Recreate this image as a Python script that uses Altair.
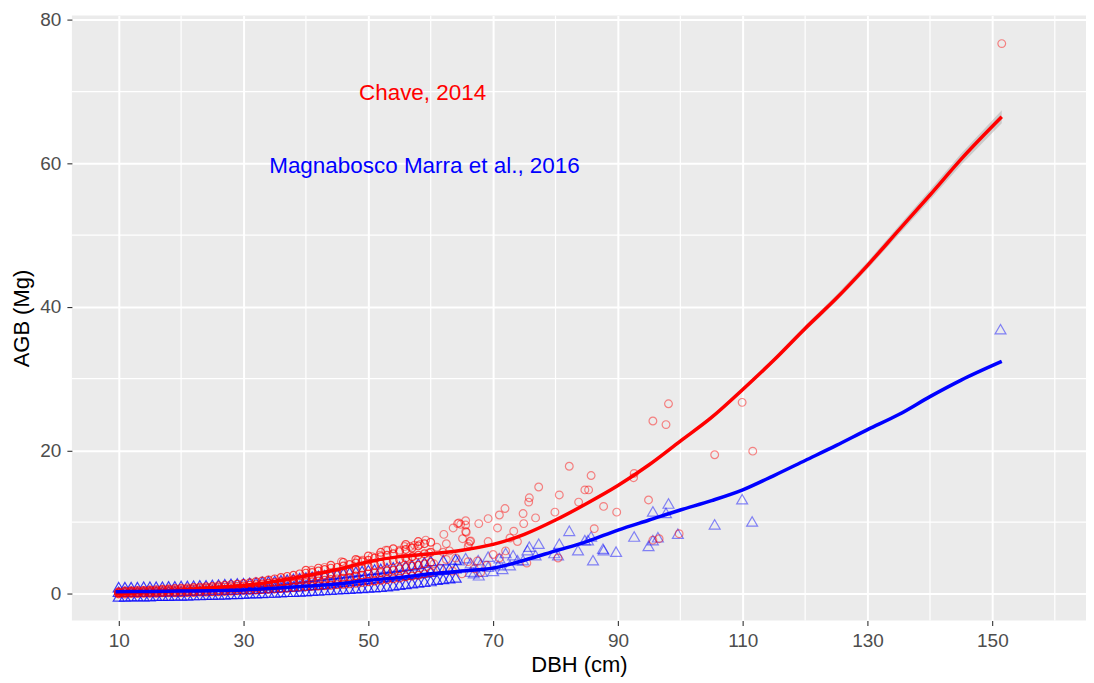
import altair as alt
import pandas as pd

# ---------------- data ----------------
# dense part of the Chave (2014) estimates: DBH -> AGB values
red_cluster = {
    10: [0.0, 0.1, 0.2, 0.3], 11: [0.0, 0.15, 0.3, 0.4], 12: [0.05, 0.2, 0.35, 0.45],
    13: [0.05, 0.2, 0.35, 0.5], 14: [0.1, 0.25, 0.4, 0.5], 15: [0.1, 0.25, 0.4, 0.55],
    16: [0.1, 0.3, 0.45, 0.6], 17: [0.15, 0.3, 0.5, 0.65], 18: [0.15, 0.35, 0.55, 0.7],
    19: [0.15, 0.35, 0.55, 0.75], 20: [0.15, 0.4, 0.6, 0.8], 21: [0.2, 0.45, 0.65, 0.85],
    22: [0.2, 0.45, 0.7, 0.9], 23: [0.25, 0.5, 0.75, 0.95], 24: [0.25, 0.55, 0.8, 1.0],
    25: [0.3, 0.6, 0.85, 1.05], 26: [0.3, 0.6, 0.9, 1.15], 27: [0.35, 0.65, 0.95, 1.2],
    28: [0.4, 0.7, 1.0, 1.3], 29: [0.45, 0.75, 1.05, 1.35], 30: [0.5, 0.8, 1.1, 1.45],
    31: [0.5, 0.85, 1.2, 1.55], 32: [0.55, 0.9, 1.3, 1.7], 33: [0.6, 1.0, 1.4, 1.8],
    34: [0.65, 1.05, 1.5, 1.95], 35: [0.7, 1.1, 1.6, 2.1], 36: [0.75, 1.2, 1.7, 2.3],
    37: [0.8, 1.3, 1.8, 2.45], 38: [0.9, 1.4, 2.0, 2.6], 39: [0.95, 1.5, 2.1, 2.8],
    40: [1.0, 1.6, 2.2, 2.9, 3.3], 41: [1.05, 1.7, 2.35, 3.0], 42: [1.1, 1.8, 2.5, 3.2, 3.6],
    43: [1.15, 1.9, 2.6, 3.4], 44: [1.2, 2.0, 2.8, 3.6, 4.0], 45: [1.3, 2.1, 2.9, 3.7],
    46: [1.35, 2.2, 3.1, 3.9, 4.4], 47: [1.4, 2.3, 3.2, 4.1], 48: [1.5, 2.5, 3.4, 4.3, 4.8],
    49: [1.6, 2.6, 3.6, 4.5], 50: [1.7, 2.8, 3.8, 4.7, 5.3], 51: [1.8, 2.9, 4.0, 5.0],
    52: [1.9, 3.0, 4.2, 5.2, 5.8], 53: [2.0, 3.2, 4.4, 5.4], 54: [2.1, 3.3, 4.6, 5.6, 6.3],
    55: [2.2, 3.5, 4.8, 5.9], 56: [2.4, 3.7, 5.0, 6.2, 6.9], 57: [2.5, 3.9, 5.2, 6.4],
    58: [2.6, 4.0, 5.4, 6.7, 7.3], 59: [2.8, 4.2, 5.6, 7.0], 60: [3.0, 4.4, 5.8, 7.2],
}
# scattered Chave (2014) estimates (DBH, AGB)
red_scatter = [
    (49.1,4.7),(50.6,5.2),(51.8,5.4),(53.1,6.1),(55.0,6.1),(55.8,6.6),(56.7,6.6),(57.4,6.8),
    (58.3,6.9),(59.2,7.5),(59.7,5.7),(56.3,4.9),(57.1,5.2),(62.1,8.3),(62.5,7.0),(63.6,9.2),
    (64.8,9.7),(65.6,10.2),(65.6,9.6),(64.5,9.9),(65.6,8.7),(65.1,7.7),(66.4,7.4),(66.0,6.6),
    (65.7,8.6),(66.3,7.3),(67.7,9.8),(69.2,10.5),(70.7,9.2),(71.0,11.0),(71.9,11.9),(73.3,8.75),
    (72.7,7.8),(73.9,7.3),(74.8,11.2),(74.9,9.8),(75.7,12.8),(75.8,13.4),(76.8,10.6),(77.3,14.9),
    (79.9,11.4),(80.6,13.8),(82.2,17.8),(83.7,12.8),(84.7,14.5),(85.3,14.5),(85.7,16.5),(86.2,9.1),
    (87.7,12.2),(89.8,11.4),(92.6,16.8),(92.5,16.2),(94.9,13.1),(95.6,24.1),(97.7,23.6),(98.1,26.5),
    (95.6,7.5),(96.6,7.7),(99.8,8.4),(105.5,19.4),(109.9,26.7),(111.6,19.9),(151.5,76.7),
    (69.2,7.3),(80.4,5.0),(75.4,4.3),(61,6.5),(62,5.8),(63,6.0),(64,5.0),(66,4.5),(67,3.5),
    (68,3.0),(69,4.0),(70,5.5),(71,5.0),(72,6.0),(60.5,4.2),(61.5,3.6),(62.5,4.8),(63.5,3.2),
    (65,2.8),(67.5,4.6),(64.3,9.8),(66.1,7.0),(52.8,6.1),(48.3,4.7),(45.7,4.5),(43.0,3.7),(40.9,3.3),
]

# dense part of the Magnabosco Marra (2016) estimates
blue_cluster = {
    10: [-0.35, 0.3, 0.95], 11: [-0.35, 0.3, 0.95], 12: [-0.3, 0.3, 0.95], 13: [-0.3, 0.3, 0.95],
    14: [-0.3, 0.3, 1.0], 15: [-0.3, 0.35, 1.0], 16: [-0.25, 0.35, 1.0], 17: [-0.25, 0.35, 1.0],
    18: [-0.25, 0.4, 1.05], 19: [-0.2, 0.4, 1.05], 20: [-0.2, 0.4, 1.1], 21: [-0.2, 0.45, 1.1],
    22: [-0.15, 0.45, 1.15], 23: [-0.15, 0.5, 1.2], 24: [-0.1, 0.5, 1.2], 25: [-0.1, 0.55, 1.25],
    26: [-0.05, 0.55, 1.3], 27: [-0.05, 0.6, 1.35], 28: [0.0, 0.6, 1.4], 29: [0.0, 0.65, 1.45],
    30: [0.05, 0.7, 1.5], 31: [0.1, 0.7, 1.55], 32: [0.1, 0.75, 1.6], 33: [0.15, 0.8, 1.7],
    34: [0.2, 0.85, 1.75], 35: [0.2, 0.9, 1.8], 36: [0.25, 0.95, 1.9], 37: [0.3, 1.0, 2.0],
    38: [0.3, 1.05, 2.1], 39: [0.35, 1.1, 2.2], 40: [0.4, 1.2, 2.3], 41: [0.45, 1.25, 2.4],
    42: [0.5, 1.3, 2.5], 43: [0.55, 1.4, 2.6], 44: [0.6, 1.5, 2.7], 45: [0.65, 1.6, 2.8],
    46: [0.7, 1.7, 2.9], 47: [0.75, 1.8, 3.0], 48: [0.8, 1.9, 3.1], 49: [0.85, 2.0, 3.2],
    50: [0.9, 2.1, 3.3], 51: [0.95, 2.2, 3.4], 52: [1.0, 2.3, 3.5], 53: [1.1, 2.4, 3.6],
    54: [1.2, 2.5, 3.7], 55: [1.3, 2.6, 3.8], 56: [1.4, 2.7, 3.9], 57: [1.5, 2.8, 4.0],
    58: [1.6, 2.9, 4.2], 59: [1.7, 3.0, 4.4], 60: [1.8, 3.1, 4.6], 61: [2.0, 3.3],
    62: [2.1, 3.4, 4.7], 63: [2.2, 3.5], 64: [2.3, 3.6, 4.8],
}
blue_scatter = [
    (65.6,5.0),(66.4,4.3),(64.5,4.7),(66.9,2.9),(67.7,2.6),(68.2,3.1),(69.2,3.8),(66.4,3.1),
    (67.6,4.7),(69.2,5.2),(70.8,4.0),(71.0,5.0),(72.0,5.7),(72.7,4.0),(73.2,5.4),(73.9,4.7),
    (74.8,4.7),(75.5,6.1),(75.8,6.6),(76.8,5.4),(77.3,7.0),(79.8,5.7),(80.4,5.4),(80.6,7.0),
    (82.2,8.8),(83.6,6.1),(84.7,7.5),(85.2,7.5),(85.7,8.0),(86.0,4.7),(87.7,6.1),(89.7,5.9),
    (92.6,8.0),(94.9,6.7),(95.6,7.5),(96.4,7.9),(99.6,8.4),(95.6,11.5),(97.7,11.3),(98.1,12.6),
    (105.5,9.7),(109.9,13.2),(111.5,10.1),(151.3,36.9),(70,3.2),(71.5,3.5),(68,4.2),(87.6,6.3),
]

line_x = [9.5, 15, 20, 25, 30, 35, 40, 45, 50, 55, 60, 65, 70, 75, 80, 85, 90, 95,
          100, 105, 110, 115, 120, 125, 130, 135, 140, 145, 151.5]
red_line_y = [0.0, 0.3, 0.55, 0.85, 1.2, 1.75, 2.5, 3.4, 4.5, 5.2, 5.6, 6.1, 6.9, 8.3,
              10.3, 12.6, 15.1, 18.0, 21.3, 24.6, 28.5, 32.6, 37.0, 41.2, 45.8, 50.7,
              55.6, 60.6, 66.5]
red_ci = [0.1, 0.05, 0.05, 0.05, 0.05, 0.05, 0.05, 0.05, 0.05, 0.05, 0.05, 0.05, 0.05, 0.05,
          0.1, 0.1, 0.15, 0.15, 0.2, 0.25, 0.3, 0.35, 0.4, 0.45, 0.5, 0.6, 0.7, 0.8, 0.9]
blue_line_y = [0.3, 0.35, 0.4, 0.45, 0.55, 0.8, 1.1, 1.4, 1.9, 2.3, 2.8, 3.2, 3.6, 4.7,
               6.0, 7.3, 8.9, 10.3, 11.7, 13.0, 14.5, 16.5, 18.6, 20.7, 22.9, 25.0,
               27.5, 29.8, 32.4]

x_ticks = [10, 30, 50, 70, 90, 110, 130, 150]
x_minor = [20, 40, 60, 80, 100, 120, 140, 160]
y_ticks = [0, 20, 40, 60, 80]
y_minor = [10, 30, 50, 70]

labels = ["Chave, 2014", "Magnabosco Marra et al., 2016"]
label_x = [58.7, 59.0]
label_y = [69.8, 59.7]
label_col = ["#FF0000", "#0000FF"]

# ---------------- tables ----------------
def to_rows(cluster):
    return pd.DataFrame([(x, y) for x, ys_ in cluster.items() for y in ys_],
                        columns=["dbh", "agb"])

red_dense = to_rows(red_cluster)
blue_dense = to_rows(blue_cluster)
red_sc = pd.DataFrame(red_scatter, columns=["dbh", "agb"])
blue_sc = pd.DataFrame(blue_scatter, columns=["dbh", "agb"])
lines_df = pd.DataFrame({
    "dbh": line_x,
    "red": red_line_y,
    "red_lo": [a - b for a, b in zip(red_line_y, red_ci)],
    "red_hi": [a + b for a, b in zip(red_line_y, red_ci)],
    "blue": blue_line_y,
})
xminor_df = pd.DataFrame({"v": x_minor})
yminor_df = pd.DataFrame({"v": y_minor})
text_df = pd.DataFrame({"label": labels, "x": label_x, "y": label_y, "c": label_col})

XD = [2.5, 165.0]
YD = [-3.7, 80.6]
xs = alt.Scale(domain=XD, nice=False, zero=False)
ys = alt.Scale(domain=YD, nice=False, zero=False)

FONT = "Liberation Sans"

x_axis = alt.Axis(values=x_ticks, title="DBH (cm)", grid=True, gridColor="white",
                  gridWidth=2, domain=False, tickColor="#333333", tickSize=5,
                  tickWidth=1.1, labelColor="#4D4D4D", labelFontSize=19, labelFont=FONT,
                  labelPadding=6, titleFont=FONT, titleFontSize=22,
                  titleFontWeight="normal", titleColor="black", titlePadding=4)
y_axis = alt.Axis(values=y_ticks, title="AGB (Mg)", grid=True, gridColor="white",
                  gridWidth=2, domain=False, tickColor="#333333", tickSize=5,
                  tickWidth=1.1, labelColor="#4D4D4D", labelFontSize=19, labelFont=FONT,
                  labelPadding=6, titleFont=FONT, titleFontSize=22,
                  titleFontWeight="normal", titleColor="black", titlePadding=6)

minor_x = alt.Chart(xminor_df).mark_rule(color="white", strokeWidth=1.2).encode(
    x=alt.X("v:Q", scale=xs, axis=x_axis))
minor_y = alt.Chart(yminor_df).mark_rule(color="white", strokeWidth=1.2).encode(
    y=alt.Y("v:Q", scale=ys, axis=y_axis))

def circles(df, op):
    return alt.Chart(df).mark_point(shape="circle", filled=False, color="#FF0000",
                                    opacity=op, size=60, strokeWidth=1.2).encode(
        x=alt.X("dbh:Q", scale=xs), y=alt.Y("agb:Q", scale=ys))

def triangles(df, op):
    return alt.Chart(df).mark_point(shape="triangle-up", filled=False, color="#0000FF",
                                    opacity=op, size=120, strokeWidth=1.2).encode(
        x=alt.X("dbh:Q", scale=xs), y=alt.Y("agb:Q", scale=ys))

band = alt.Chart(lines_df).mark_area(color="#999999", opacity=0.4).encode(
    x=alt.X("dbh:Q", scale=xs), y=alt.Y("red_lo:Q", scale=ys), y2="red_hi:Q")
red_line = alt.Chart(lines_df).mark_line(color="#FF0000", strokeWidth=3.5,
                                         interpolate="monotone").encode(
    x=alt.X("dbh:Q", scale=xs), y=alt.Y("red:Q", scale=ys))
blue_line = alt.Chart(lines_df).mark_line(color="#0000FF", strokeWidth=3.5,
                                          interpolate="monotone").encode(
    x=alt.X("dbh:Q", scale=xs), y=alt.Y("blue:Q", scale=ys))

texts = alt.Chart(text_df).mark_text(font=FONT, fontSize=22.5, align="center",
                                     baseline="middle").encode(
    x=alt.X("x:Q", scale=xs), y=alt.Y("y:Q", scale=ys),
    text="label:N",
    color=alt.Color("c:N", scale=None))

chart = alt.layer(minor_x, minor_y,
                  triangles(blue_dense, 0.75), circles(red_dense, 0.7),
                  triangles(blue_sc, 0.45), circles(red_sc, 0.45),
                  band, red_line, blue_line, texts).properties(
    width=1016, height=606,
    padding={"left": 64, "top": 7, "right": 0, "bottom": 60},
    autosize=alt.AutoSizeParams(type="none"),
    background="white",
).configure_view(fill="#EBEBEB", stroke=None)

chart.save("out.html", embed_options={"renderer": "svg", "actions": False})
